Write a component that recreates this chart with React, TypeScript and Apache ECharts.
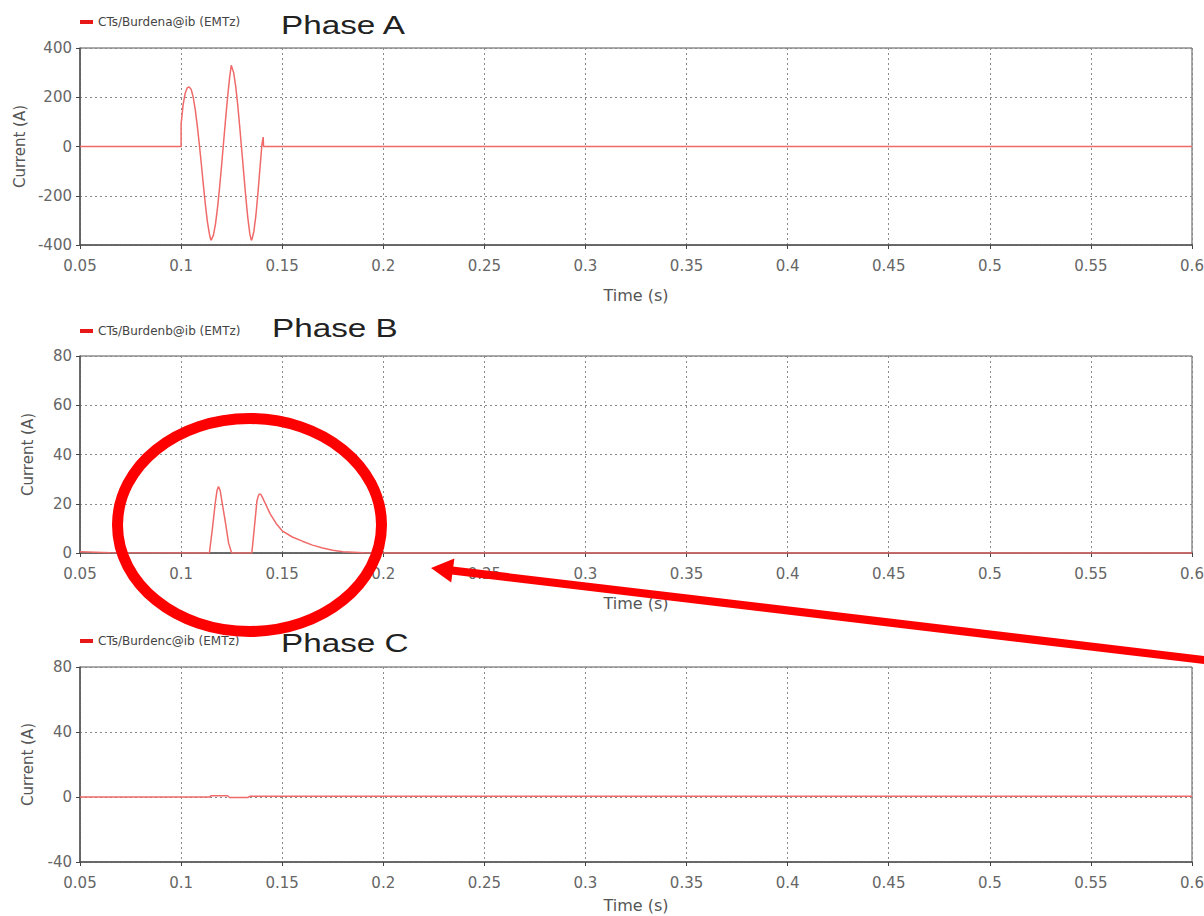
import React, { useEffect, useRef } from "react";
import * as echarts from "echarts";

// ---- Data ----
const timeTicks = [0.05, 0.1, 0.15, 0.2, 0.25, 0.3, 0.35, 0.4, 0.45, 0.5, 0.55, 0.6];

const seriesNames = [
  "CTs/Burdena@ib (EMTz)",
  "CTs/Burdenb@ib (EMTz)",
  "CTs/Burdenc@ib (EMTz)",
];
const panelTitles = ["Phase A", "Phase B", "Phase C"];

const phaseATime = [
  0.05, 0.1, 0.1, 0.101, 0.102, 0.103, 0.104, 0.105, 0.106, 0.107, 0.108, 0.109,
  0.11, 0.111, 0.112, 0.113, 0.114, 0.1147, 0.115, 0.116, 0.117, 0.118, 0.119,
  0.12, 0.121, 0.122, 0.123, 0.124, 0.1248, 0.125, 0.126, 0.127, 0.128, 0.129,
  0.13, 0.131, 0.132, 0.133, 0.134, 0.1347, 0.135, 0.136, 0.137, 0.138, 0.139,
  0.14, 0.1406, 0.1408, 0.6,
];
const phaseACurrent = [
  0, 0, 90, 170, 215, 238, 242, 232, 200, 150, 85, 10,
  -70, -155, -235, -305, -355, -380, -378, -360, -315, -250, -170,
  -80, 15, 110, 200, 280, 330, 328, 300, 245, 170, 80,
  -15, -110, -205, -290, -355, -380, -378, -345, -280, -190, -90,
  10, 38, 0, 0,
];

const phaseBTime = [
  0.05, 0.065, 0.114, 0.1155, 0.117, 0.1178, 0.1185, 0.1193, 0.12, 0.122, 0.1235, 0.125, 0.135,
  0.1362, 0.1375, 0.1382, 0.1388, 0.1395, 0.14, 0.142, 0.144, 0.147, 0.15, 0.155, 0.16, 0.165,
  0.17, 0.175, 0.18, 0.19, 0.2, 0.6,
];
const phaseBCurrent = [
  0.5, 0.1, 0, 10, 21, 25.5, 27, 25.5, 22, 12, 4, 0, 0,
  10, 21, 23.3, 24, 23.7, 23, 19.5, 16, 12, 9, 6.5, 4.8, 3.2,
  2, 1.1, 0.5, 0.1, 0, 0,
];

const phaseCTime = [0.05, 0.114, 0.115, 0.123, 0.124, 0.133, 0.134, 0.6];
const phaseCCurrent = [0, 0, 0.8, 0.8, -0.3, -0.3, 0.4, 0.4];

const yRanges = [
  { min: -400, max: 400, interval: 200 },
  { min: 0, max: 80, interval: 20 },
  { min: -40, max: 80, interval: 40 },
];

const zip = (t: number[], v: number[]) => t.map((x, i) => [x, v[i]]);

export default function App() {
  const ref = useRef<HTMLDivElement>(null);

  useEffect(() => {
    if (!ref.current) return;
    const chart = echarts.init(ref.current, undefined, { renderer: "svg" });

    const grids = [
      { left: 80, top: 48, width: 1112, height: 197 },
      { left: 80, top: 356, width: 1112, height: 197 },
      { left: 80, top: 667, width: 1112, height: 195 },
    ];
    const legendTops = [16, 325, 635];
    const titleY = [25, 328, 643];
    const titleX = [281, 272, 281];
    const xNameGaps = [42, 42, 35];

    const data = [
      zip(phaseATime, phaseACurrent),
      zip(phaseBTime, phaseBCurrent),
      zip(phaseCTime, phaseCCurrent),
    ];

    const labelStyle = { color: "#666", fontFamily: "DejaVu Sans", fontSize: 15 };
    const gridLine = { show: true, lineStyle: { color: "#8a8a8a", type: [2, 3] as any, width: 1 } };

    const option: any = {
      animation: false,
      backgroundColor: "#ffffff",
      grid: grids.map((g) => ({
        ...g,
        show: true,
        containLabel: false,
        outerBoundsMode: "none",
        borderColor: "#555",
        borderWidth: 1,
        backgroundColor: "transparent",
      })),
      xAxis: grids.map((_, i) => ({
        type: "value",
        gridIndex: i,
        min: timeTicks[0],
        max: timeTicks[timeTicks.length - 1],
        interval: 0.05,
        name: "Time (s)",
        nameLocation: "middle",
        nameGap: xNameGaps[i],
        nameTextStyle: { color: "#555", fontFamily: "DejaVu Sans", fontSize: 16 },
        axisLine: { show: true, onZero: false, lineStyle: { color: "#555", width: 1.5 } },
        axisTick: { show: true, length: 4, lineStyle: { color: "#444" } },
        axisLabel: {
          ...labelStyle,
          margin: 13,
          formatter: (v: number) => String(Number(v.toFixed(2))),
        },
        splitLine: gridLine,
      })),
      yAxis: grids.map((_, i) => ({
        type: "value",
        gridIndex: i,
        min: yRanges[i].min,
        max: yRanges[i].max,
        interval: yRanges[i].interval,
        name: "Current (A)",
        nameLocation: "middle",
        nameGap: 45,
        nameTextStyle: { color: "#555", fontFamily: "DejaVu Sans", fontSize: 15 },
        axisLine: { show: true, onZero: false, lineStyle: { color: "#555", width: 1.5 } },
        axisTick: { show: true, length: 4, lineStyle: { color: "#444" } },
        axisLabel: { ...labelStyle, margin: 8 },
        splitLine: gridLine,
      })),
      legend: seriesNames.map((n, i) => ({
        data: [n],
        left: 80,
        top: legendTops[i],
        padding: 0,
        icon: "rect",
        itemWidth: 13,
        itemHeight: 4,
        selectedMode: false,
        itemStyle: { color: "#e81818" },
        textStyle: { color: "#444", fontFamily: "DejaVu Sans", fontSize: 12, padding: [0, 0, 0, 0] },
      })),
      series: seriesNames.map((n, i) => ({
        name: n,
        type: "line",
        xAxisIndex: i,
        yAxisIndex: i,
        data: data[i],
        showSymbol: false,
        symbol: "none",
        itemStyle: { color: "#e81818" },
        lineStyle: { color: "#f06a6a", width: 1.5 },
        z: 3,
      })),
      graphic: [
        ...panelTitles.map((t, i) => ({
          type: "text",
          x: titleX[i],
          y: titleY[i],
          scaleX: 1.28,
          style: {
            text: t,
            fill: "#222",
            font: '26px "Liberation Sans"',
            textVerticalAlign: "middle",
            verticalAlign: "middle",
          },
          z: 10,
        })),
        {
          type: "ellipse",
          shape: { cx: 249.5, cy: 525, rx: 132, ry: 106.5 },
          style: { fill: "none", stroke: "#ff0000", lineWidth: 11 },
          z: 100,
        },
        {
          type: "line",
          shape: { x1: 1215, y1: 661.3, x2: 452, y2: 570.5 },
          style: { stroke: "#ff0000", lineWidth: 8 },
          z: 100,
        },
        {
          type: "polygon",
          shape: {
            points: [
              [431, 568],
              [451.2, 582.5],
              [454.4, 558.6],
            ],
          },
          style: { fill: "#ff0000" },
          z: 101,
        },
      ],
    };

    chart.setOption(option);
    return () => chart.dispose();
  }, []);

  return (
    <div
      ref={ref}
      style={{ position: "absolute", left: 0, top: 0, width: 1204, height: 916, background: "#fff" }}
    />
  );
}
